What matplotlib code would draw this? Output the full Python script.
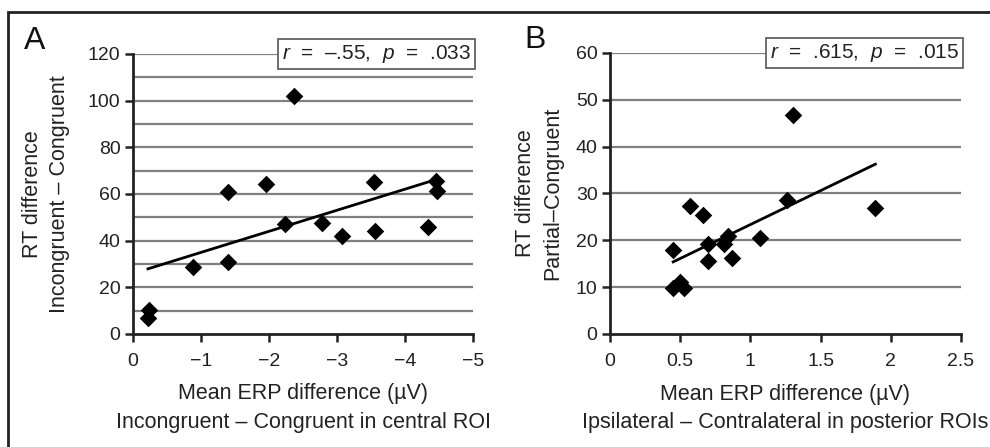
import numpy as np
import matplotlib
matplotlib.use('Agg')
import matplotlib.pyplot as plt
from matplotlib.patches import Rectangle

plt.rcParams['font.family'] = ['Liberation Sans', 'DejaVu Sans']
plt.rcParams['mathtext.fontset'] = 'custom'
plt.rcParams['mathtext.rm'] = 'Liberation Sans'
plt.rcParams['mathtext.it'] = 'Liberation Sans:italic'

# panel A: central ROI, incongruent - congruent
erp_a = [-0.23, -0.22, -0.88, -1.40, -1.39, -1.95, -2.23, -2.37,
         -2.78, -3.08, -3.55, -3.56, -4.34, -4.45, -4.47]
rt_a = [10.2, 6.9, 28.9, 60.9, 30.8, 64.1, 47.2, 101.9,
        47.6, 41.9, 65.1, 44.3, 45.9, 65.5, 61.2]
stat_a = r'$r$  =  –.55,  $p$  =  .033'

# panel B: posterior ROIs, ipsilateral - contralateral
erp_b = [0.45, 0.45, 0.50, 0.53, 0.57, 0.66, 0.70, 0.70,
         0.81, 0.84, 0.87, 1.07, 1.26, 1.30, 1.89]
rt_b = [17.9, 9.8, 11.2, 9.8, 27.4, 25.5, 19.3, 15.5,
        19.3, 21.0, 16.2, 20.5, 28.6, 46.7, 27.0]
stat_b = r'$r$  =  .615,  $p$  =  .015'

W, H = 990, 447
fig = plt.figure(figsize=(W / 100, H / 100), dpi=100)

# outer frame (only top and left edges fall inside the picture)
fig.patches.append(Rectangle((8 / W, -0.05), 1.1, 1 - 12 / H + 0.05,
                             transform=fig.transFigure, fill=False,
                             edgecolor='#222222', lw=2))


def px_axes(x0, x1, y0, y1):
    return fig.add_axes([x0 / W, 1 - y1 / H, (x1 - x0) / W, (y1 - y0) / H])


def draw_panel(ax, x, y, xlim, xticks, ylim, yticks, grid_step, ylabel,
               xlabel, stat, letter, ylab_off, letter_x):
    ax.set_xlim(*xlim)
    ax.set_ylim(*ylim)
    for g in np.arange(ylim[0] + grid_step, ylim[1] + grid_step / 2, grid_step):
        ax.axhline(g, color='#7f7f7f', lw=1.6, zorder=1)
    ax.scatter(x, y, marker='D', s=80, color='black', zorder=3, lw=0)
    k, b = np.polyfit(x, y, 1)
    xs = np.array([min(x), max(x)])
    ax.plot(xs, k * xs + b, color='black', lw=2, zorder=2)

    for s in ['top', 'right']:
        ax.spines[s].set_visible(False)
    for s in ['left', 'bottom']:
        ax.spines[s].set_linewidth(2)
        ax.spines[s].set_color('#222222')
    ax.set_xticks(xticks)
    ax.set_yticks(yticks)
    ax.tick_params(direction='out', length=6, width=1.8, labelsize=14,
                   color='#222222', labelcolor='#222222')
    ax.tick_params(axis='x', pad=8)
    ax.tick_params(axis='y', pad=3)

    ax.set_ylabel(ylabel, fontsize=15.5, linespacing=1.35, va='center',
                  color='#222222')
    ax.yaxis.set_label_coords(ylab_off, 0.5)
    ax.set_xlabel(xlabel, fontsize=15.5, linespacing=1.45, va='center',
                  color='#222222')
    ax.xaxis.set_label_coords(0.5, -74 / 280)

    ax.text(0.995, 1.0, stat, transform=ax.transAxes, ha='right',
            va='center', fontsize=15, color='#222222', zorder=5,
            bbox=dict(boxstyle='square,pad=0.18', fc='white', ec='#555555',
                      lw=1.2))
    ax.text(letter_x, 1.045, letter, transform=ax.transAxes, fontsize=23,
            ha='left', va='center', color='#111111')


ax_a = px_axes(133, 473, 54, 334)
draw_panel(ax_a, erp_a, rt_a, (0, -5), [0, -1, -2, -3, -4, -5], (0, 120),
           range(0, 121, 20), 10, 'RT difference\nIncongruent – Congruent',
           'Mean ERP difference (µV)\nIncongruent – Congruent in central ROI',
           stat_a, 'A', -87 / 340, -0.32)

ax_b = px_axes(610, 961, 53, 334)
draw_panel(ax_b, erp_b, rt_b, (0, 2.5), [0, 0.5, 1, 1.5, 2, 2.5], (0, 60),
           range(0, 61, 10), 10, 'RT difference\nPartial–Congruent',
           'Mean ERP difference (µV)\nIpsilateral – Contralateral in posterior ROIs',
           stat_b, 'B', -71 / 351, -0.245)
ax_b.set_xticklabels(['0', '0.5', '1', '1.5', '2', '2.5'])

fig.savefig('out.png', dpi=100)
